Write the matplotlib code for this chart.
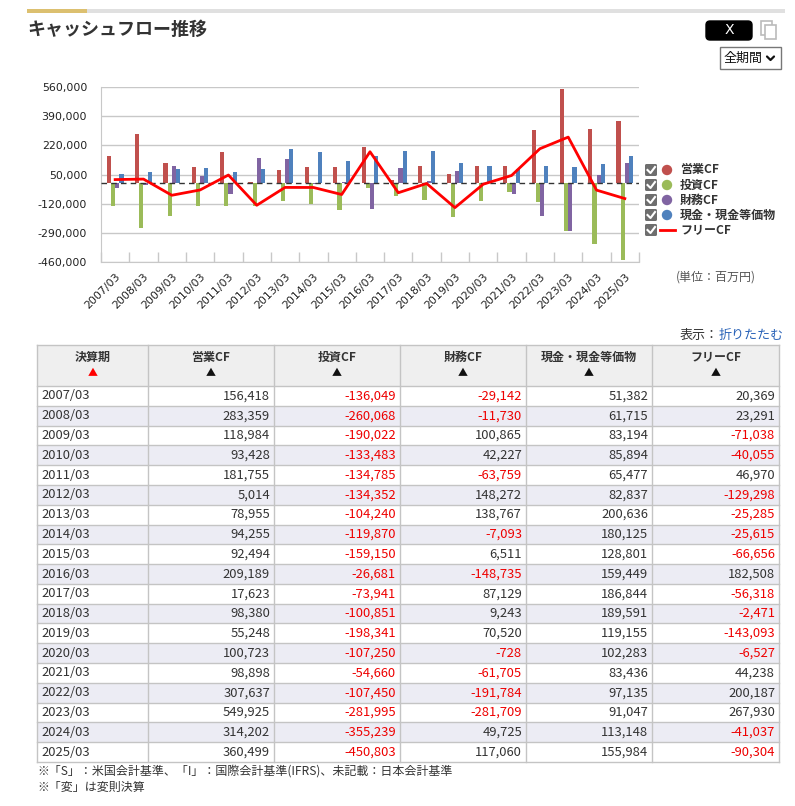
import matplotlib
matplotlib.use("Agg")
import matplotlib.pyplot as plt
from matplotlib.patches import Rectangle, FancyBboxPatch, Circle
import numpy as np

plt.rcParams['font.family'] = ['Noto Sans CJK JP', 'DejaVu Sans']

# ---------------- data ----------------
periods = ["2007/03", "2008/03", "2009/03", "2010/03", "2011/03", "2012/03", "2013/03",
           "2014/03", "2015/03", "2016/03", "2017/03", "2018/03", "2019/03", "2020/03",
           "2021/03", "2022/03", "2023/03", "2024/03", "2025/03"]
operating_cf = [156418, 283359, 118984, 93428, 181755, 5014, 78955, 94255, 92494, 209189,
                17623, 98380, 55248, 100723, 98898, 307637, 549925, 314202, 360499]
investing_cf = [-136049, -260068, -190022, -133483, -134785, -134352, -104240, -119870,
                -159150, -26681, -73941, -100851, -198341, -107250, -54660, -107450,
                -281995, -355239, -450803]
financing_cf = [-29142, -11730, 100865, 42227, -63759, 148272, 138767, -7093, 6511,
                -148735, 87129, 9243, 70520, -728, -61705, -191784, -281709, 49725, 117060]
cash_eq = [51382, 61715, 83194, 85894, 65477, 82837, 200636, 180125, 128801, 159449,
           186844, 189591, 119155, 102283, 83436, 97135, 91047, 113148, 155984]
free_cf = [20369, 23291, -71038, -40055, 46970, -129298, -25285, -25615, -66656, 182508,
           -56318, -2471, -143093, -6527, 44238, 200187, 267930, -41037, -90304]

y_ticks = [560000, 390000, 220000, 50000, -120000, -290000, -460000]
series_names = ["営業CF", "投資CF", "財務CF", "現金・現金等価物", "フリーCF"]
col_headers = ["決算期", "営業CF", "投資CF", "財務CF", "現金・現金等価物", "フリーCF"]

bar_colors = ["#c0504d", "#9bbb59", "#8064a2", "#4f81bd"]
line_color = "#ff0000"

W, H = 795, 806
fig = plt.figure(figsize=(W / 100, H / 100), dpi=100)

# overlay in pixel coords
ov = fig.add_axes([0, 0, 1, 1])
ov.set_xlim(0, W)
ov.set_ylim(H, 0)
ov.axis("off")

def pt(px):
    return px * 0.72

# top bars
ov.add_patch(Rectangle((27, 9), 60, 4, color="#dcc070", lw=0))
ov.add_patch(Rectangle((87, 9), 698, 4, color="#e0e0e0", lw=0))
ov.text(27, 30, "キャッシュフロー推移", fontsize=pt(18), fontweight="bold", color="#333333",
        va="center", ha="left")

# X button
ov.add_patch(FancyBboxPatch((706, 21), 46, 19, boxstyle="round,pad=0,rounding_size=4",
                            fc="black", ec="black"))
ov.text(729, 30.5, "X", color="white", fontsize=pt(14), ha="center", va="center",
        family="DejaVu Sans")
# copy icon
ov.add_patch(Rectangle((761, 21), 11, 14, fc="none", ec="#bbbbbb", lw=1.2))
ov.add_patch(Rectangle((765, 25), 11, 14, fc="white", ec="#bbbbbb", lw=1.2))

# dropdown
ov.add_patch(Rectangle((720, 47), 61, 22, fc="white", ec="#777777", lw=1))
ov.text(724, 58, "全期間", fontsize=pt(13), ha="left", va="center", color="#111111")
ov.plot([767, 770.5, 774], [56.5, 60, 56.5], color="#111111", lw=1.6, solid_capstyle="round")

# ---------------- chart ----------------
ax = fig.add_axes([101 / W, 1 - 262 / H, 538 / W, 175 / H])
x = np.arange(len(periods))
bw = 0.148
series = [operating_cf, investing_cf, financing_cf, cash_eq]
for k, (vals, c) in enumerate(zip(series, bar_colors)):
    ax.bar(x + (k - 1.5) * bw, vals, width=bw, color=c, zorder=3, lw=0)
ax.plot(x, free_cf, color=line_color, lw=2, zorder=5)
ax.axhline(0, color="#333333", lw=1, ls=(0, (4, 3)), zorder=4)
ax.set_xlim(-0.5, len(periods) - 0.5)
ax.set_ylim(y_ticks[-1], y_ticks[0])
ax.set_yticks(y_ticks)
ax.set_yticklabels([f"{v:,}" for v in y_ticks], family="DejaVu Sans", fontsize=pt(11),
                   color="#222222")
ax.yaxis.grid(True, color="#c8c8c8", lw=1, zorder=0)
ax.tick_params(axis="y", length=0, pad=10)
ax.set_xticks(x)
ax.set_xticklabels(periods, rotation=45, ha="right", rotation_mode="anchor",
                   family="DejaVu Sans", fontsize=pt(11), color="#222222")
ax.tick_params(axis="x", length=0, pad=7)
ax.set_xticks(np.arange(len(periods) + 1) - 0.5, minor=True)
ax.tick_params(axis="x", which="minor", length=7, color="#c8c8c8", width=1, direction="in")
for s in ["top", "right"]:
    ax.spines[s].set_visible(False)
ax.spines["left"].set_color("#c8c8c8")
ax.spines["bottom"].set_color("#c8c8c8")
ax.set_facecolor("none")

# legend
leg_y = [170, 185, 200, 215, 230]
for i, (name, ly) in enumerate(zip(series_names, leg_y)):
    ov.add_patch(FancyBboxPatch((645, ly - 6), 12, 12, boxstyle="round,pad=0,rounding_size=1.5",
                                fc="#6e6e6e", ec="none"))
    ov.plot([647.5, 650.5, 655], [ly, ly + 3, ly - 3], color="white", lw=1.5)
    if i < 4:
        ov.add_patch(Circle((667, ly), 5.2, color=bar_colors[i], lw=0))
    else:
        ov.plot([660, 675], [ly, ly], color=line_color, lw=2)
    ov.text(680, ly, name, fontsize=pt(12), fontweight="bold", color="#333333",
            ha="left", va="center")
ov.text(716, 277, "(単位：百万円)", fontsize=pt(12), color="#555555", ha="center", va="center")

# ---------------- table ----------------
ov.text(719, 335, "表示：", fontsize=pt(13), color="#333333", ha="right", va="center")
ov.text(784, 335, "折りたたむ", fontsize=pt(13), color="#2a63b8", ha="right", va="center")

col_x = [37, 148, 274, 400, 526, 652, 779]
head_top, head_bot = 345, 386
row_h = (762 - 386) / len(periods)
border = "#c4c4c4"

ov.add_patch(Rectangle((col_x[0], head_top), col_x[-1] - col_x[0], head_bot - head_top,
                       fc="#efefef", ec="none"))
for r in range(len(periods)):
    y0 = head_bot + r * row_h
    fc = "white" if r % 2 == 0 else "#ececf4"
    ov.add_patch(Rectangle((col_x[0], y0), col_x[-1] - col_x[0], row_h, fc=fc, ec="none"))

for c, hname in enumerate(col_headers):
    cx = (col_x[c] + col_x[c + 1]) / 2
    ov.text(cx, 357, hname, fontsize=pt(12), fontweight="bold", color="#333333",
            ha="center", va="center")
    ov.text(cx, 373, "▲", fontsize=pt(10), color="#ff0000" if c == 0 else "#111111",
            ha="center", va="center")

table_cols = [operating_cf, investing_cf, financing_cf, cash_eq, free_cf]
for r, p in enumerate(periods):
    yc = head_bot + (r + 0.5) * row_h
    ov.text(col_x[0] + 4, yc, p, fontsize=pt(13), color="#333333", ha="left", va="center")
    for c, col in enumerate(table_cols):
        v = col[r]
        ov.text(col_x[c + 2] - 4, yc, f"{v:,}", fontsize=pt(13),
                color="#ee0000" if v < 0 else "#333333", ha="right", va="center")

# grid lines
ys = [head_top, head_bot] + [head_bot + (r + 1) * row_h for r in range(len(periods))]
for yv in ys:
    ov.plot([col_x[0], col_x[-1]], [yv, yv], color=border, lw=1)
for xv in col_x:
    ov.plot([xv, xv], [head_top, ys[-1]], color=border, lw=1)

ov.text(37, 771, "※「S」：米国会計基準、「I」：国際会計基準(IFRS)、未記載：日本会計基準",
        fontsize=pt(12), color="#333333", ha="left", va="center")
ov.text(37, 787, "※「変」は変則決算", fontsize=pt(12), color="#333333", ha="left", va="center")

fig.savefig("out.png", dpi=100)
